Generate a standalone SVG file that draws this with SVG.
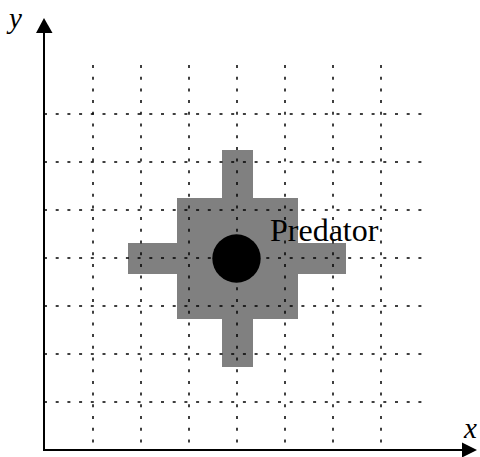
<svg xmlns="http://www.w3.org/2000/svg" width="480" height="457" viewBox="0 0 480 457">
<style>
.grid{stroke:#000;stroke-width:1.5;stroke-dasharray:3 8.7;fill:none}
.axis{stroke:#000;stroke-width:2;fill:none}
.lbl{font-family:"Liberation Serif","Times New Roman",serif;fill:#000}
</style>
<rect width="480" height="457" fill="#fff"/>
<g id="zone" fill="#808080">
<rect x="222" y="150" width="31" height="217"/>
<rect x="177" y="198" width="121" height="121"/>
<rect x="128" y="243" width="218" height="31"/>
</g>
<g id="grid" class="grid">
<path d="M93 65V450M141 65V450M189 65V450M237 65V450M285 65V450M333 65V450M381 65V450"/>
<path d="M44 114H430M44 162H430M44 210H430M44 258H430M44 306H430M44 354H430M44 402H430"/>
</g>
<g id="axes">
<path class="axis" d="M44 30V450H464"/>
<polygon points="44,18 36,33 52.5,33" fill="#000"/>
<polygon points="477,450 462,442.5 462,457.5" fill="#000"/>
</g>
<g id="predator">
<circle cx="236.5" cy="258.5" r="24.2" fill="#000"/>
<text class="lbl" x="270" y="241" font-size="32">Predator</text>
</g>
<text class="lbl" x="9" y="28" font-size="29" font-style="italic">y</text>
<text class="lbl" x="464" y="438" font-size="29" font-style="italic">x</text>
</svg>
